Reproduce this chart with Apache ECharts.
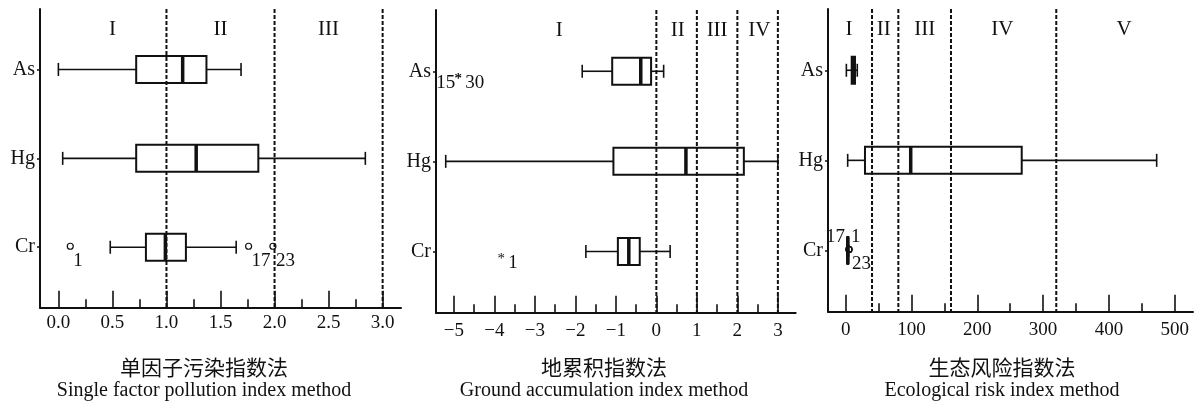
<!DOCTYPE html>
<html><head><meta charset="utf-8">
<script src="https://cdn.jsdelivr.net/npm/echarts@6/dist/echarts.min.js"></script>
<style>html,body{margin:0;padding:0;background:#fff}#c{width:1200px;height:406px}</style>
</head><body><div id="c"></div>
<script>
// categories, bottom to top
const categories = ['Cr', 'Hg', 'As'];

// Single factor pollution index: [min, Q1, median, Q3, max]
const singleCr = [0.48, 0.81, 0.99, 1.18, 1.645];
const singleHg = [0.04, 0.72, 1.275, 1.85, 2.84];
const singleAs = [0.00, 0.72, 1.15, 1.37, 1.69];
const singleOutliers = [['Cr', 0.11, '1'], ['Cr', 1.76, '17'], ['Cr', 1.985, '23']];
const singleLimits = [1, 2, 3];
const singleZones = ['I', 'II', 'III'];
const singleZoneAt = [0.5, 1.5, 2.5];
const singleTicks = [0, 0.5, 1, 1.5, 2, 2.5, 3];
const singleMinor = [0.25, 0.75, 1.25, 1.75, 2.25, 2.75];

// Geo-accumulation index
const geoCr = [-1.74, -0.95, -0.68, -0.41, 0.34];
const geoHg = [-5.2, -1.06, 0.73, 2.16, 3.0];
const geoAs = [-1.83, -1.09, -0.385, -0.13, 0.18];
const geoOutliers = [['As', -4.89, '15'], ['As', -4.89, '30'], ['Cr', -3.83, '1']];
const geoLimits = [0, 1, 2, 3];
const geoZones = ['I', 'II', 'III', 'IV'];
const geoZoneAt = [-2.4, 0.53, 1.5, 2.54];
const geoTicks = [-5, -4, -3, -2, -1, 0, 1, 2, 3];
const geoMinor = [-4.5, -3.5, -2.5, -1.5, -0.5, 0.5, 1.5, 2.5];

// Ecological risk index
const ecoCr = [1.8, 2.4, 3.2, 3.9, 4.4];
const ecoHg = [3, 29.3, 98.8, 267.5, 472.6];
const ecoAs = [1, 9.1, 11.6, 14.1, 17.6];
const ecoOutliers = [['Cr', 5.0, '17'], ['Cr', 5.0, '1'], ['Cr', 5.0, '23']];
const ecoLimits = [40, 80, 160, 320];
const ecoZones = ['I', 'II', 'III', 'IV', 'V'];
const ecoZoneAt = [5, 58, 120, 238, 423];
const ecoTicks = [0, 100, 200, 300, 400, 500];
const ecoMinor = [50, 150, 250, 350, 450];

const titles = [
  ['单因子污染指数法', 'Single factor pollution index method'],
  ['地累积指数法', 'Ground accumulation index method'],
  ['生态风险指数法', 'Ecological risk index method']
];

const INK = '#111';
const SERIF = '"Liberation Serif", "Times New Roman", serif';
const CJK = '"Noto Sans CJK SC", "Liberation Serif", serif';

const panels = [
  { boxes: [singleCr, singleHg, singleAs], outliers: singleOutliers, limits: singleLimits,
    zones: singleZones, zoneAt: singleZoneAt, ticks: singleTicks, minor: singleMinor,
    fmt: v => v.toFixed(1), grid: { left: 40, top: 9, width: 361, height: 298.7 },
    min: -0.17, max: 3.17, marker: 'circle', titleX: 204, labelMargin: 6,
    place: { '1': 'br', '17': 'br', '23': 'br' } },
  { boxes: [geoCr, geoHg, geoAs], outliers: geoOutliers, limits: geoLimits,
    zones: geoZones, zoneAt: geoZoneAt, ticks: geoTicks, minor: geoMinor,
    fmt: v => String(v).replace('-', '\u2212'), grid: { left: 436, top: 10, width: 359.7, height: 302.7 },
    min: -5.44, max: 3.44, marker: 'star', titleX: 604, labelMargin: 9,
    place: { '15': 'l', '30': 'r', '1': 'r' } },
  { boxes: [ecoCr, ecoHg, ecoAs], outliers: ecoOutliers, limits: ecoLimits,
    zones: ecoZones, zoneAt: ecoZoneAt, ticks: ecoTicks, minor: ecoMinor,
    fmt: v => String(v), grid: { left: 828, top: 9, width: 365, height: 302.7 },
    min: -26.9, max: 527.8, marker: 'circle', titleX: 1002, labelMargin: 9,
    place: { '17': 'tl', '1': 'tr', '23': 'br' } }
];

const placeStyle = { br: [3, 14, 'left'], r: [7, 12, 'left'], l: [-3, 12, 'right'], tl: [-4, -13, 'right'], tr: [2, -13, 'left'] };

const Y_MIN = 0.32, Y_MAX = 3.68;

function txt(x, y, text, font, align, fill) {
  return { type: 'text', x: x, y: y, style: { text: text, font: font, fill: fill || INK,
    textAlign: align || 'center', textVerticalAlign: 'middle', align: align || 'center', verticalAlign: 'middle' } };
}
function ln(x1, y1, x2, y2, w, dash) {
  const s = { stroke: INK, lineWidth: w };
  if (dash) s.lineDash = dash;
  return { type: 'line', shape: { x1: x1, y1: y1, x2: x2, y2: y2 }, style: s };
}

const grid = [], xAxis = [], yAxis = [], series = [], graphic = [];

panels.forEach((p, k) => {
  grid.push(Object.assign({ containLabel: false }, p.grid));
  xAxis.push({
    type: 'value', gridIndex: k, min: p.min, max: p.max, position: 'bottom', offset: 0,
    axisLine: { show: true, onZero: false, lineStyle: { color: INK, width: 2 } },
    axisTick: { show: true, inside: true, length: 17, customValues: p.ticks, lineStyle: { color: INK, width: 1.6 } },
    axisLabel: { show: true, customValues: p.ticks, formatter: p.fmt, margin: p.labelMargin,
      color: INK, fontFamily: SERIF, fontSize: 19 },
    splitLine: { show: false }
  });
  xAxis.push({
    type: 'value', gridIndex: k, min: p.min, max: p.max, position: 'bottom', offset: 0,
    axisLine: { show: false, onZero: false },
    axisTick: { show: true, inside: true, length: 8.5, customValues: p.minor, lineStyle: { color: INK, width: 1.6 } },
    axisLabel: { show: false }, splitLine: { show: false }
  });
  yAxis.push({
    type: 'value', gridIndex: k, min: Y_MIN, max: Y_MAX,
    axisLine: { show: true, onZero: false, lineStyle: { color: INK, width: 2 } },
    axisTick: { show: true, length: 3, customValues: [1, 2, 3], lineStyle: { color: INK, width: 1.5 } },
    axisLabel: { show: true, customValues: [1, 2, 3], formatter: v => categories[Math.round(v) - 1] || '',
      margin: 5, color: INK, fontFamily: SERIF, fontSize: 20 },
    splitLine: { show: false }
  });
  const xi = k * 2;

  // threshold dashed lines
  series.push({
    type: 'custom', xAxisIndex: xi, yAxisIndex: k, silent: true, clip: false,
    data: p.limits.map(v => [v]), encode: { x: 0 },
    renderItem: (params, api) => {
      const top = api.coord([api.value(0), Y_MAX]);
      const bot = api.coord([api.value(0), Y_MIN]);
      return ln(top[0], top[1], bot[0], bot[1], 2, [4, 2]);
    }
  });

  // zone labels
  series.push({
    type: 'custom', xAxisIndex: xi, yAxisIndex: k, silent: true, clip: false,
    data: p.zoneAt.map((v, i) => [v, p.zones[i]]), encode: { x: 0 },
    renderItem: (params, api) => {
      const pt = api.coord([api.value(0), Y_MAX]);
      return txt(pt[0], pt[1] + 20, p.zones[params.dataIndex], '21px ' + SERIF);
    }
  });

  // boxes
  series.push({
    type: 'custom', xAxisIndex: xi, yAxisIndex: k, silent: true, clip: false,
    data: p.boxes.map((b, i) => [i + 1].concat(b)), encode: { x: [1, 2, 3, 4, 5], y: 0 },
    renderItem: (params, api) => {
      const yv = api.value(0);
      const xs = [1, 2, 3, 4, 5].map(i => api.coord([api.value(i), yv])[0]);
      const cy = api.coord([0, yv])[1];
      const h = 13.5, cap = 6.5;
      return { type: 'group', children: [
        ln(xs[0], cy, xs[1], cy, 1.6), ln(xs[3], cy, xs[4], cy, 1.6),
        ln(xs[0], cy - cap, xs[0], cy + cap, 1.6), ln(xs[4], cy - cap, xs[4], cy + cap, 1.6),
        { type: 'rect', shape: { x: xs[1], y: cy - h, width: xs[3] - xs[1], height: 2 * h },
          style: { fill: 'none', stroke: INK, lineWidth: 2 } },
        ln(xs[2], cy - h, xs[2], cy + h, 3.5)
      ] };
    }
  });

  // outliers
  series.push({
    type: 'custom', xAxisIndex: xi, yAxisIndex: k, silent: true, clip: false,
    data: p.outliers.map(o => [categories.indexOf(o[0]) + 1, o[1]]), encode: { x: 1, y: 0 },
    renderItem: (params, api) => {
      const pt = api.coord([api.value(1), api.value(0)]);
      const id = p.outliers[params.dataIndex][2];
      const ps = placeStyle[p.place[id]];
      const children = [];
      if (p.marker === 'circle') {
        children.push({ type: 'circle', shape: { cx: pt[0], cy: pt[1] - 1, r: 3 },
          style: { fill: 'none', stroke: INK, lineWidth: 1.2 } });
      } else {
        children.push(txt(pt[0], pt[1] + 8, '*', '15px ' + SERIF));
      }
      children.push(txt(pt[0] + ps[0], pt[1] + ps[1], id, '19px ' + SERIF, ps[2]));
      return { type: 'group', children: children };
    }
  });

  graphic.push(txt(p.titleX, 367, titles[k][0], '21px ' + CJK));
  graphic.push(txt(p.titleX, 391, titles[k][1], '20px ' + SERIF));
});

const chart = echarts.init(document.getElementById('c'), null, { renderer: 'canvas' });
chart.setOption({
  backgroundColor: '#fff',
  animation: false,
  grid: grid, xAxis: xAxis, yAxis: yAxis, series: series,
  graphic: graphic
});
</script>
</body></html>
